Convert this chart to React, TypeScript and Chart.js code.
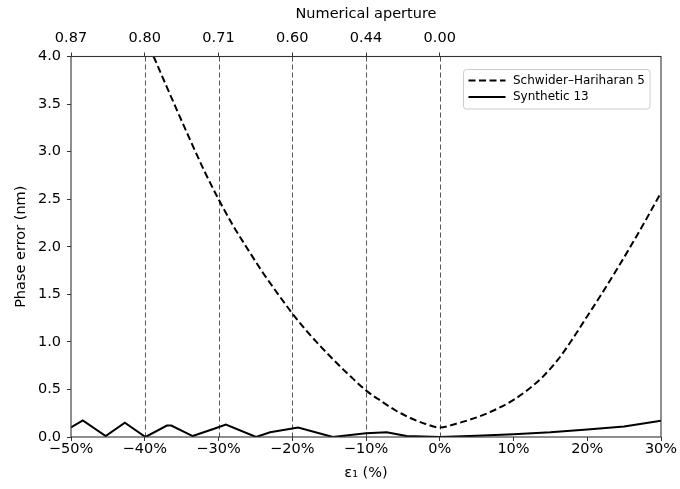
import React, { useEffect, useRef } from "react";
import { Chart, registerables } from "chart.js";

Chart.register(...registerables);

// ---- data ----
const seriesLabels = ["Schwider\u2013Hariharan 5", "Synthetic 13"];

const schwiderX = [-38.8, -36, -34, -32, -30, -28, -26, -24, -22, -20, -18, -16, -14, -12, -10, -8, -6, -4, -2, 0, 2, 4, 6, 8, 10, 12, 14, 16, 18, 20, 22, 24, 26, 28, 30];
const schwiderY = [4.0, 3.5, 3.15, 2.81, 2.5, 2.22, 1.97, 1.73, 1.51, 1.3, 1.11, 0.94, 0.78, 0.63, 0.49, 0.38, 0.28, 0.2, 0.14, 0.1, 0.135, 0.18, 0.235, 0.305, 0.39, 0.5, 0.635, 0.81, 1.03, 1.27, 1.51, 1.76, 2.02, 2.29, 2.57];

const syntheticX = [-50, -48.4, -45.3, -42.7, -39.9, -37.0, -36.4, -33.5, -30.5, -29.0, -24.9, -23.0, -19.2, -14.5, -10.0, -7.2, -4.5, 0, 5, 10, 15, 20, 25, 30];
const syntheticY = [0.1, 0.175, 0.01, 0.15, 0.0, 0.12, 0.12, 0.01, 0.09, 0.13, 0.0, 0.05, 0.1, 0.0, 0.04, 0.05, 0.01, 0.0, 0.012, 0.03, 0.05, 0.08, 0.11, 0.17];

const xTickValues = [-50, -40, -30, -20, -10, 0, 10, 20, 30];
const yTickValues = [0, 0.5, 1, 1.5, 2, 2.5, 3, 3.5, 4];
const naTickValues = [-50, -40, -30, -20, -10, 0];
const naTickLabels = ["0.87", "0.80", "0.71", "0.60", "0.44", "0.00"];
const referenceLines = [-40, -30, -20, -10, 0];

const FONT = "'DejaVu Sans', sans-serif";
const FS = 14.5;
const LEGEND_FS = 12;

const toPoints = (xs: number[], ys: number[]) => xs.map((x, i) => ({ x, y: ys[i] }));

const decorPlugin = {
  id: "decor",
  beforeDatasetsDraw(chart: any) {
    const { ctx, chartArea, scales } = chart;
    ctx.save();
    ctx.strokeStyle = "#555";
    ctx.lineWidth = 1;
    ctx.setLineDash([5, 3]);
    referenceLines.forEach((v) => {
      const px = Math.round(scales.x.getPixelForValue(v)) + 0.5;
      ctx.beginPath();
      ctx.moveTo(px, chartArea.top);
      ctx.lineTo(px, chartArea.bottom);
      ctx.stroke();
    });
    ctx.restore();
  },
  afterDatasetsDraw(chart: any) {
    const { ctx, chartArea } = chart;
    ctx.save();
    // frame
    ctx.strokeStyle = "#333";
    ctx.lineWidth = 1.1;
    ctx.setLineDash([]);
    ctx.strokeRect(chartArea.left, chartArea.top, chartArea.right - chartArea.left, chartArea.bottom - chartArea.top);

    // legend
    const bw = 186.5;
    const bh = 39.5;
    const bx = chartArea.right - 11 - bw;
    const by = chartArea.top + 13;
    ctx.beginPath();
    if ((ctx as any).roundRect) (ctx as any).roundRect(bx, by, bw, bh, 3);
    else ctx.rect(bx, by, bw, bh);
    ctx.fillStyle = "rgba(255,255,255,0.85)";
    ctx.fill();
    ctx.strokeStyle = "#cccccc";
    ctx.lineWidth = 1;
    ctx.stroke();

    chart.data.datasets.forEach((ds: any, i: number) => {
      const yy = by + 11 + i * 16.5;
      ctx.beginPath();
      ctx.setLineDash(ds.borderDash || []);
      ctx.strokeStyle = "#000";
      ctx.lineWidth = 2;
      ctx.moveTo(bx + 5, yy);
      ctx.lineTo(bx + 42, yy);
      ctx.stroke();
      ctx.setLineDash([]);
      ctx.fillStyle = "#000";
      ctx.font = `${LEGEND_FS}px ${FONT}`;
      ctx.textBaseline = "middle";
      ctx.textAlign = "left";
      ctx.fillText(ds.label, bx + 49.5, yy);
    });
    ctx.restore();
  },
};

export default function App() {
  const ref = useRef<HTMLCanvasElement | null>(null);

  useEffect(() => {
    if (!ref.current) return;
    Chart.defaults.font.family = FONT;
    Chart.defaults.font.size = FS;
    Chart.defaults.color = "#000";

    const tickGrid = {
      drawOnChartArea: false,
      drawTicks: true,
      tickLength: 4,
      tickColor: "#333",
      tickWidth: 1,
    };

    const chart = new Chart(ref.current, {
      type: "line",
      data: {
        datasets: [
          {
            label: seriesLabels[0],
            data: toPoints(schwiderX, schwiderY),
            borderColor: "#000",
            borderWidth: 2,
            borderDash: [7, 3.5],
            pointRadius: 0,
            cubicInterpolationMode: "monotone",
            fill: false,
            xAxisID: "x",
            yAxisID: "y",
          },
          {
            label: seriesLabels[1],
            data: toPoints(syntheticX, syntheticY),
            borderColor: "#000",
            borderWidth: 2,
            pointRadius: 0,
            tension: 0,
            fill: false,
            xAxisID: "x",
            yAxisID: "y",
          },
        ],
      },
      options: {
        responsive: false,
        animation: false,
        layout: { padding: { left: 0, right: 19, top: 0, bottom: 0 } },
        plugins: {
          legend: { display: false },
          tooltip: { enabled: false },
        },
        scales: {
          x: {
            type: "linear",
            position: "bottom",
            min: -50,
            max: 30,
            grid: tickGrid,
            border: { display: false },
            afterBuildTicks: (s: any) => {
              s.ticks = xTickValues.map((v) => ({ value: v }));
            },
            ticks: {
              padding: 0,
              autoSkip: false,
              maxRotation: 0,
              callback: (v: any) => (v < 0 ? "\u2212" + Math.abs(v) + "%" : v + "%"),
            },
            title: {
              display: true,
              text: "\u03b5\u2081 (%)",
              font: { size: FS, family: FONT },
              padding: { top: 0, bottom: 7 },
            },
            afterFit: (s: any) => {
              s.height = 52;
            },
          },
          x2: {
            type: "linear",
            position: "top",
            min: -50,
            max: 30,
            grid: tickGrid,
            border: { display: false },
            afterBuildTicks: (s: any) => {
              s.ticks = naTickValues.map((v) => ({ value: v }));
            },
            ticks: {
              padding: 5.8,
              autoSkip: false,
              maxRotation: 0,
              callback: (_v: any, i: number) => naTickLabels[i],
            },
            title: {
              display: true,
              text: "Numerical aperture",
              font: { size: FS, family: FONT },
              padding: { top: 5.3, bottom: 0 },
            },
            afterFit: (s: any) => {
              s.height = 56.5;
            },
          },
          y: {
            type: "linear",
            position: "left",
            min: 0,
            max: 4,
            grid: tickGrid,
            border: { display: false },
            afterBuildTicks: (s: any) => {
              s.ticks = yTickValues.map((v) => ({ value: v }));
            },
            ticks: {
              padding: 6,
              autoSkip: false,
              callback: (v: any) => Number(v).toFixed(1),
            },
            title: {
              display: true,
              text: "Phase error (nm)",
              font: { size: FS, family: FONT },
              padding: { top: 12.3, bottom: 0 },
            },
            afterFit: (s: any) => {
              s.width = 71;
            },
          },
        },
      },
      plugins: [decorPlugin],
    } as any);

    return () => chart.destroy();
  }, []);

  return (
    <div style={{ position: "absolute", left: 0, top: 0, width: 680, height: 489, background: "#fff" }}>
      <canvas ref={ref} width={680} height={489} style={{ width: 680, height: 489, display: "block" }} />
    </div>
  );
}
